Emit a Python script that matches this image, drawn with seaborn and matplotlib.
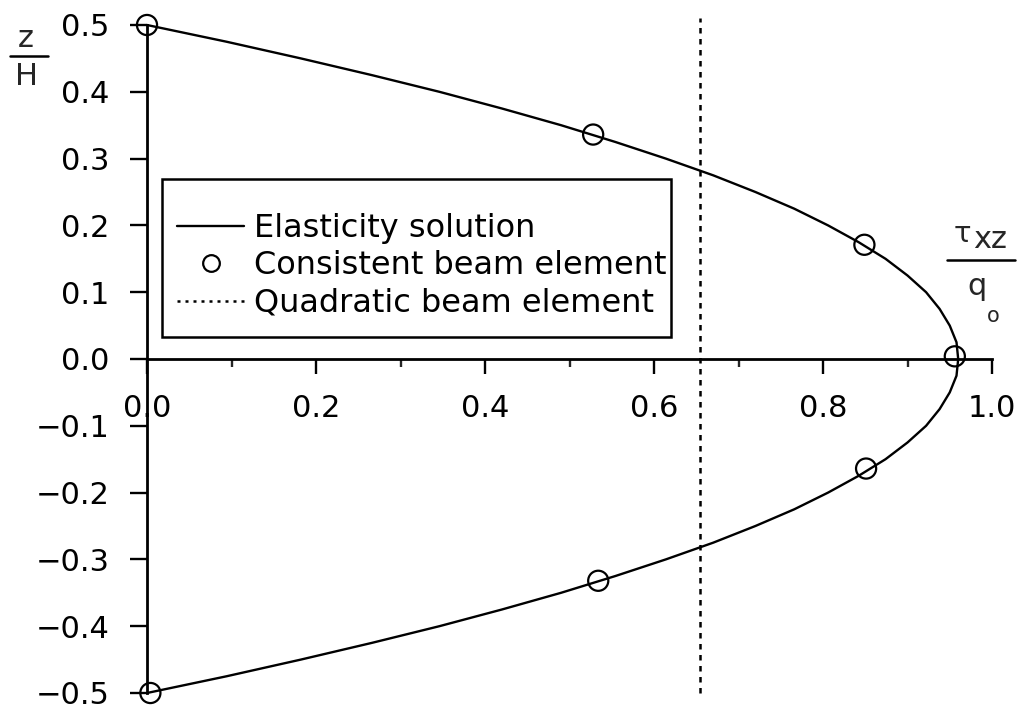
import matplotlib
matplotlib.use("Agg")
import matplotlib.pyplot as plt
from matplotlib.lines import Line2D
from matplotlib.patches import Rectangle
from matplotlib.ticker import MultipleLocator, FuncFormatter
import seaborn as sns
import pandas as pd

# Elasticity solution: shear stress ratio across the depth
z_curve = [0.5, 0.475, 0.45, 0.425, 0.4, 0.375, 0.35, 0.325, 0.3, 0.275, 0.25,
           0.225, 0.2, 0.175, 0.15, 0.125, 0.1, 0.075, 0.05, 0.025, 0.0,
           -0.025, -0.05, -0.075, -0.1, -0.125, -0.15, -0.175, -0.2, -0.225, -0.25,
           -0.275, -0.3, -0.325, -0.35, -0.375, -0.4, -0.425, -0.45, -0.475, -0.5]
tau_curve = [0.0, 0.094, 0.182, 0.266, 0.346, 0.420, 0.490, 0.554, 0.614, 0.670, 0.720,
             0.766, 0.806, 0.842, 0.874, 0.900, 0.922, 0.938, 0.950, 0.958, 0.960,
             0.958, 0.950, 0.938, 0.922, 0.900, 0.874, 0.842, 0.806, 0.766, 0.720,
             0.670, 0.614, 0.554, 0.490, 0.420, 0.346, 0.266, 0.182, 0.094, 0.0]

# Consistent beam element results
z_consistent = [0.5, 0.336, 0.171, 0.004, -0.164, -0.332, -0.5]
tau_consistent = [0.0, 0.528, 0.849, 0.956, 0.851, 0.534, 0.004]

# Quadratic beam element (constant shear)
tau_quadratic = 0.655
z_quadratic = [-0.5, 0.51]

x_ticks = [0.0, 0.2, 0.4, 0.6, 0.8, 1.0]
y_ticks = [0.5, 0.4, 0.3, 0.2, 0.1, 0.0, -0.1, -0.2, -0.3, -0.4, -0.5]

legend_labels = ["Elasticity solution", "Consistent beam element", "Quadratic beam element"]

sns.set_theme(style="white")
plt.rcParams["font.family"] = ["DejaVu Sans"]

W, H = 1022, 707
AX_L, AX_R, AX_T, AX_B = 147, 992, 25, 693
fig = plt.figure(figsize=(W / 100, H / 100), dpi=100)
ax = fig.add_axes([AX_L / W, 1 - AX_B / H, (AX_R - AX_L) / W, (AX_B - AX_T) / H])


def fx(px):
    return px / W


def fy(py):
    return 1 - py / H


def ax_x(px):
    return (px - AX_L) / (AX_R - AX_L)


def ax_y(py):
    return (AX_B - py) / (AX_B - AX_T)


def one_decimal(v, _pos):
    s = f"{v:.1f}"
    if s == "-0.0":
        s = "0.0"
    return s.replace("-", "\u2212")


curve_df = pd.DataFrame({"tau": tau_curve, "z": z_curve})
pts_df = pd.DataFrame({"tau": tau_consistent, "z": z_consistent})
quad_df = pd.DataFrame({"tau": [tau_quadratic] * len(z_quadratic), "z": z_quadratic})

sns.lineplot(data=curve_df, x="tau", y="z", sort=False, estimator=None,
             color="black", linewidth=1.7, ax=ax, clip_on=False)
sns.lineplot(data=quad_df, x="tau", y="z", sort=False, estimator=None,
             color="black", linewidth=1.8, linestyle=(0, (2.2, 2.2)), ax=ax, clip_on=False)
sns.scatterplot(data=pts_df, x="tau", y="z", marker="o", s=210,
                facecolor="none", edgecolor="black", linewidth=1.6, ax=ax,
                clip_on=False, zorder=5)

ax.set_xlim(0, 1.0)
ax.set_ylim(-0.5, 0.5)
ax.set_xlabel("")
ax.set_ylabel("")

for side in ("top", "right"):
    ax.spines[side].set_visible(False)
ax.spines["bottom"].set_position(("data", 0))
ax.spines["left"].set_position(("data", 0))
for side in ("bottom", "left"):
    ax.spines[side].set_color("black")
    ax.spines[side].set_linewidth(2.0)

ax.set_xticks(x_ticks)
ax.xaxis.set_minor_locator(MultipleLocator(0.1))
ax.xaxis.set_major_formatter(FuncFormatter(one_decimal))
ax.set_yticks(y_ticks)
ax.yaxis.set_major_formatter(FuncFormatter(one_decimal))

ax.tick_params(axis="x", which="major", direction="out", length=11, width=1.7,
               pad=14, labelsize=22, colors="black", bottom=True)
ax.tick_params(axis="x", which="minor", direction="out", length=6, width=1.7,
               bottom=True)
ax.tick_params(axis="y", which="major", direction="out", length=12, width=1.7,
               pad=15, labelsize=22, colors="black", left=True)

# Legend entries, with a separately drawn box around them
handles = [
    Line2D([], [], color="black", linewidth=1.7),
    Line2D([], [], color="black", linestyle="none", marker="o", markersize=12,
           markerfacecolor="none", markeredgewidth=1.6),
    Line2D([], [], color="black", linewidth=1.8, linestyle=(0, (1.2, 2.0))),
]
leg = ax.legend(handles, legend_labels, loc="upper left",
                bbox_to_anchor=(ax_x(177), ax_y(213)),
                borderaxespad=0, borderpad=0, fontsize=23, frameon=False,
                handlelength=2.1, handletextpad=0.3, labelspacing=0.2)
for t in leg.get_texts():
    t.set_color("black")

box = Rectangle((ax_x(162), ax_y(337)), ax_x(671) - ax_x(162), ax_y(179) - ax_y(337),
                transform=ax.transAxes, facecolor="white", edgecolor="black",
                linewidth=1.8, zorder=4)
ax.add_patch(box)
leg.set_zorder(6)

# Axis labels drawn as fractions
fig.text(fx(26), fy(47), "z", fontsize=22, ha="center", va="baseline")
fig.text(fx(27), fy(85), "H", fontsize=22, ha="center", va="baseline")
fig.add_artist(Line2D([fx(10), fx(48)], [fy(56), fy(56)], color="black", linewidth=1.8))

fig.text(fx(962), fy(242), "τ", fontsize=21, ha="center", va="baseline")
fig.text(fx(990), fy(248), "xz", fontsize=22, ha="center", va="baseline")
fig.add_artist(Line2D([fx(947), fx(1015)], [fy(260), fy(260)], color="black", linewidth=1.8))
fig.text(fx(977), fy(295), "q", fontsize=22, ha="center", va="baseline")
fig.text(fx(993), fy(322), "o", fontsize=15, ha="center", va="baseline")

fig.savefig("out.png", dpi=100)
